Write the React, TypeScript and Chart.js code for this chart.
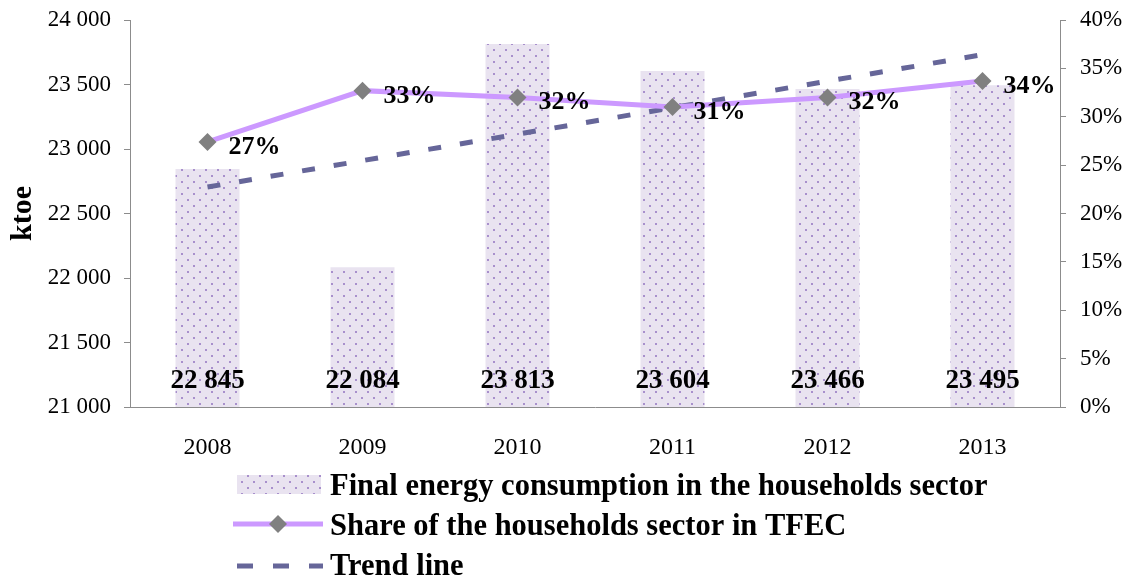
import React, { useEffect, useRef } from "react";
import { Chart, registerables } from "chart.js";

Chart.register(...registerables);

const years = ["2008", "2009", "2010", "2011", "2012", "2013"];
const consumption = [22845, 22084, 23813, 23604, 23466, 23495];
const sharePct = [27.4, 32.7, 32.0, 31.0, 32.0, 33.7];
const shareLabels = ["27%", "33%", "32%", "31%", "32%", "34%"];
const trend = [22705, 22910, 23115, 23320, 23526, 23731];
const legendLabels = [
  "Final energy consumption in the households sector",
  "Share of the households sector in TFEC",
  "Trend line",
];

const FONT = "'Liberation Serif', 'Times New Roman', serif";
const BAR_BG = "#e9e3f0";
const BAR_DOT = "#a890cc";
const LINE_COLOR = "#cc99ff";
const MARKER_COLOR = "#808080";
const TREND_COLOR = "#666699";
const AXIS_COLOR = "#8c8c8c";

function makePattern(ctx: CanvasRenderingContext2D) {
  const c = document.createElement("canvas");
  c.width = 12;
  c.height = 12;
  const p = c.getContext("2d")!;
  p.fillStyle = BAR_BG;
  p.fillRect(0, 0, 12, 12);
  p.fillStyle = BAR_DOT;
  p.fillRect(1, 1, 2, 2);
  p.fillRect(7, 7, 2, 2);
  return ctx.createPattern(c, "repeat")!;
}

function fmtThousands(v: number) {
  const s = Math.round(v).toString();
  return s.replace(/\B(?=(\d{3})+(?!\d))/g, " ");
}

export default function App() {
  const ref = useRef<HTMLCanvasElement>(null);

  useEffect(() => {
    const canvas = ref.current!;
    const ctx = canvas.getContext("2d")!;
    const pattern = makePattern(ctx);

    const labelsPlugin = {
      id: "labelsPlugin",
      afterDatasetsDraw(chart: any) {
        const c = chart.ctx;
        c.save();
        c.fillStyle = "#000";
        c.font = `bold 27px ${FONT}`;
        c.textAlign = "center";
        c.textBaseline = "alphabetic";
        const barMeta = chart.getDatasetMeta(0);
        barMeta.data.forEach((el: any, i: number) => {
          c.fillText(fmtThousands(consumption[i]), el.x, chart.chartArea.bottom - 19);
        });
        const lineMeta = chart.getDatasetMeta(1);
        c.font = `bold 26px ${FONT}`;
        c.textAlign = "left";
        lineMeta.data.forEach((el: any, i: number) => {
          c.fillText(shareLabels[i], el.x + 21, el.y + 12);
        });
        c.restore();
      },
    };

    const legendPlugin = {
      id: "customLegend",
      afterDraw(chart: any) {
        const c = chart.ctx;
        c.save();
        const x0 = 237;
        c.fillStyle = pattern;
        c.fillRect(x0, 475, 84, 19);
        c.strokeStyle = LINE_COLOR;
        c.lineWidth = 5;
        c.beginPath();
        c.moveTo(x0 - 4, 524);
        c.lineTo(x0 + 86, 524);
        c.stroke();
        c.fillStyle = MARKER_COLOR;
        c.beginPath();
        const mx = x0 + 41, my = 524, r = 9;
        c.moveTo(mx, my - r);
        c.lineTo(mx + r, my);
        c.lineTo(mx, my + r);
        c.lineTo(mx - r, my);
        c.closePath();
        c.fill();
        c.strokeStyle = TREND_COLOR;
        c.lineWidth = 5;
        c.setLineDash([16, 20]);
        c.beginPath();
        c.moveTo(x0, 566);
        c.lineTo(x0 + 86, 566);
        c.stroke();
        c.setLineDash([]);
        c.fillStyle = "#000";
        c.font = `bold 30.5px ${FONT}`;
        c.textAlign = "left";
        c.textBaseline = "alphabetic";
        const baselines = [495, 535, 575];
        legendLabels.forEach((t, i) => c.fillText(t, 330, baselines[i]));
        c.restore();
      },
    };

    const chart = new Chart(ctx, {
      type: "bar",
      data: {
        labels: years,
        datasets: [
          {
            type: "bar",
            label: legendLabels[0],
            data: consumption,
            backgroundColor: pattern,
            borderWidth: 0,
            barPercentage: 0.413,
            categoryPercentage: 1,
            yAxisID: "y",
            order: 3,
          },
          {
            type: "line",
            label: legendLabels[1],
            data: sharePct,
            borderColor: LINE_COLOR,
            borderWidth: 5,
            pointStyle: "rectRot",
            pointRadius: 9,
            pointBackgroundColor: MARKER_COLOR,
            pointBorderColor: MARKER_COLOR,
            pointBorderWidth: 0,
            yAxisID: "y1",
            order: 1,
          },
          {
            type: "line",
            label: legendLabels[2],
            data: trend,
            borderColor: TREND_COLOR,
            borderWidth: 5,
            borderDash: [13, 19],
            pointRadius: 0,
            yAxisID: "y",
            order: 2,
          },
        ],
      },
      options: {
        responsive: false,
        animation: false,
        layout: { padding: { top: 20, left: 0, right: 0, bottom: 0 } },
        plugins: {
          legend: { display: false },
          tooltip: { enabled: false },
        },
        scales: {
          x: {
            grid: { display: false },
            border: { color: AXIS_COLOR, width: 1 },
            ticks: { color: "#000", font: { family: FONT, size: 24 }, padding: 18 },
            afterFit(scale: any) {
              scale.height = 176;
              scale.paddingLeft = 0;
              scale.paddingRight = 0;
            },
          },
          y: {
            position: "left",
            min: 21000,
            max: 24000,
            grid: { drawOnChartArea: false, color: AXIS_COLOR, tickLength: 6 },
            border: { color: AXIS_COLOR, width: 1 },
            ticks: {
              stepSize: 500,
              color: "#000",
              padding: 13,
              font: { family: FONT, size: 23 },
              callback: (v: any) => fmtThousands(Number(v)),
            },
            title: {
              display: true,
              text: "ktoe",
              color: "#000",
              font: { family: FONT, size: 30, weight: "bold" },
              padding: { top: 5, bottom: 0 },
            },
            afterFit(scale: any) {
              scale.width = 130;
              scale.paddingTop = 0;
              scale.paddingBottom = 0;
            },
          },
          y1: {
            position: "right",
            min: 0,
            max: 40,
            grid: { drawOnChartArea: false, color: AXIS_COLOR, tickLength: 6 },
            border: { color: AXIS_COLOR, width: 1 },
            ticks: {
              stepSize: 5,
              color: "#000",
              padding: 14,
              font: { family: FONT, size: 23 },
              callback: (v: any) => `${v}%`,
            },
            afterFit(scale: any) {
              scale.width = 76;
              scale.paddingTop = 0;
              scale.paddingBottom = 0;
            },
          },
        },
      },
      plugins: [labelsPlugin, legendPlugin],
    });
    return () => chart.destroy();
  }, []);

  return (
    <div style={{ position: "absolute", left: 0, top: 0, width: 1136, height: 583, background: "#fff" }}>
      <canvas ref={ref} width={1136} height={583} style={{ display: "block" }} />
    </div>
  );
}
